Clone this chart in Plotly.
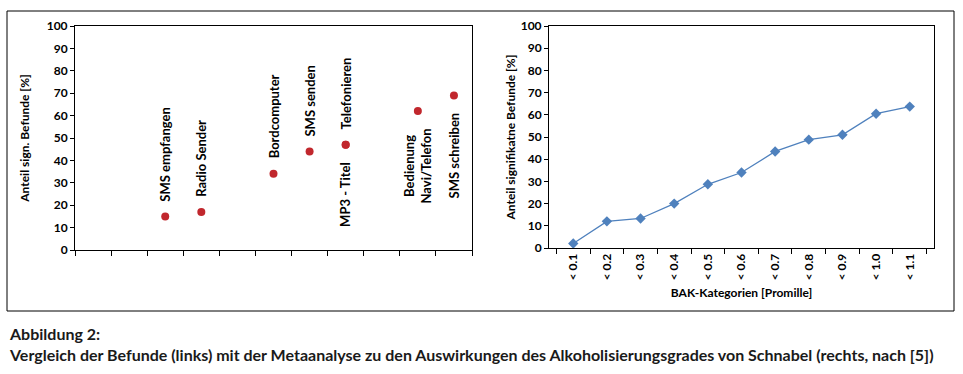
import plotly.graph_objects as go

# ---- data ----
left_labels = ["SMS empfangen", "Radio Sender", "Bordcomputer", "SMS senden",
               "MP3 - Titel", "Telefonieren", "Bedienung<br>Navi/Telefon", "SMS schreiben"]
left_slots = [3, 4, 6, 7, 8, 8, 10, 11]
left_values = [15, 17, 34, 44, 47, 47, 62, 69]
left_label_side = ["above", "above", "above", "above", "below", "above", "below", "below"]
n_left_slots = 11

bak_categories = ["< 0.1", "< 0.2", "< 0.3", "< 0.4", "< 0.5", "< 0.6",
                  "< 0.7", "< 0.8", "< 0.9", "< 1.0", "< 1.1"]
bak_values = [2, 12, 13.3, 20, 28.7, 34, 43.5, 48.8, 51, 60.5, 63.7]

y_ticks = list(range(0, 101, 10))

W, H = 963, 374
FONT = "Lato, 'Open Sans', sans-serif"
CAP_FONT = "Lato, 'Open Sans', sans-serif"

def px_x(p):
    return p / W

def px_y(p):
    return 1 - p / H

fig = go.Figure()

fig.add_trace(go.Scatter(
    x=left_slots, y=left_values, mode="markers",
    marker=dict(color="#c1272d", size=8),
    xaxis="x", yaxis="y", showlegend=False, hoverinfo="y"))

fig.add_trace(go.Scatter(
    x=bak_categories, y=bak_values, mode="lines+markers",
    line=dict(color="#4f81bd", width=1.3),
    marker=dict(color="#4f81bd", size=8, symbol="diamond"),
    xaxis="x2", yaxis="y2", showlegend=False))

annotations = []
for lab, sx, v, side in zip(left_labels, left_slots, left_values, left_label_side):
    annotations.append(dict(
        x=sx, y=v, xref="x", yref="y", text=lab,
        textangle=-90, showarrow=False,
        xanchor="center",
        yanchor="bottom" if side == "above" else "top",
        yshift=13 if side == "above" else -15,
        font=dict(family=FONT, size=13, color="#000", weight="bold")))

annotations.append(dict(
    x=7 / W, y=px_y(333), xref="paper", yref="paper", xanchor="left", yanchor="middle",
    text="Abbildung 2:", showarrow=False,
    font=dict(family=CAP_FONT, size=16, color="#1a1a1a", weight="bold")))
annotations.append(dict(
    x=7 / W, y=px_y(354), xref="paper", yref="paper", xanchor="left", yanchor="middle",
    text="Vergleich der Befunde (links) mit der Metaanalyse zu den Auswirkungen des Alkoholisierungsgrades von Schnabel (rechts, nach [5])",
    showarrow=False,
    font=dict(family=CAP_FONT, size=16, color="#1a1a1a", weight="bold")))

tickfont = dict(family=FONT, size=12, color="#000", weight="bold")
titlefont = dict(family=FONT, size=12, color="#000", weight="bold")

axis_common = dict(
    showline=True, linecolor="#000", linewidth=1, mirror=True,
    showgrid=False, zeroline=False, ticks="outside",
    tickcolor="#000", tickfont=tickfont, automargin=False)

fig.update_layout(
    width=W, height=H, margin=dict(l=0, r=0, t=0, b=0),
    paper_bgcolor="white", plot_bgcolor="white",
    font=dict(family=FONT, color="#000"),
    xaxis=dict(domain=[px_x(75), px_x(472)], anchor="y",
               range=[0.5, n_left_slots + 0.5],
               tickvals=[i + 0.5 for i in range(n_left_slots + 1)],
               ticktext=[""] * (n_left_slots + 1), ticklen=5,
               **axis_common),
    yaxis=dict(domain=[px_y(250), px_y(26)], anchor="x", range=[0, 100],
               tickvals=y_ticks, ticklen=4,
               title=dict(text="Anteil sign. Befunde [%]", standoff=14, font=titlefont),
               **axis_common),
    xaxis2=dict(domain=[px_x(549), px_x(934)], anchor="y2",
                categoryorder="array", categoryarray=bak_categories,
                tickson="boundaries", tickangle=-90, ticklen=5,
                title=dict(text="BAK-Kategorien [Promille]", standoff=9, font=titlefont),
                **axis_common),
    yaxis2=dict(domain=[px_y(248), px_y(26)], anchor="x2", range=[0, 100],
                tickvals=y_ticks, ticklen=4,
                title=dict(text="Anteil signifikatne Befunde [%]", standoff=2, font=titlefont),
                **axis_common),
    annotations=annotations,
    shapes=[dict(type="rect", xref="paper", yref="paper",
                 x0=px_x(7), x1=px_x(954), y0=px_y(311), y1=px_y(11),
                 line=dict(color="#000", width=1))],
)

fig.write_html("out.html", config={"displayModeBar": False},
               post_script="document.body.style.margin='0';")
